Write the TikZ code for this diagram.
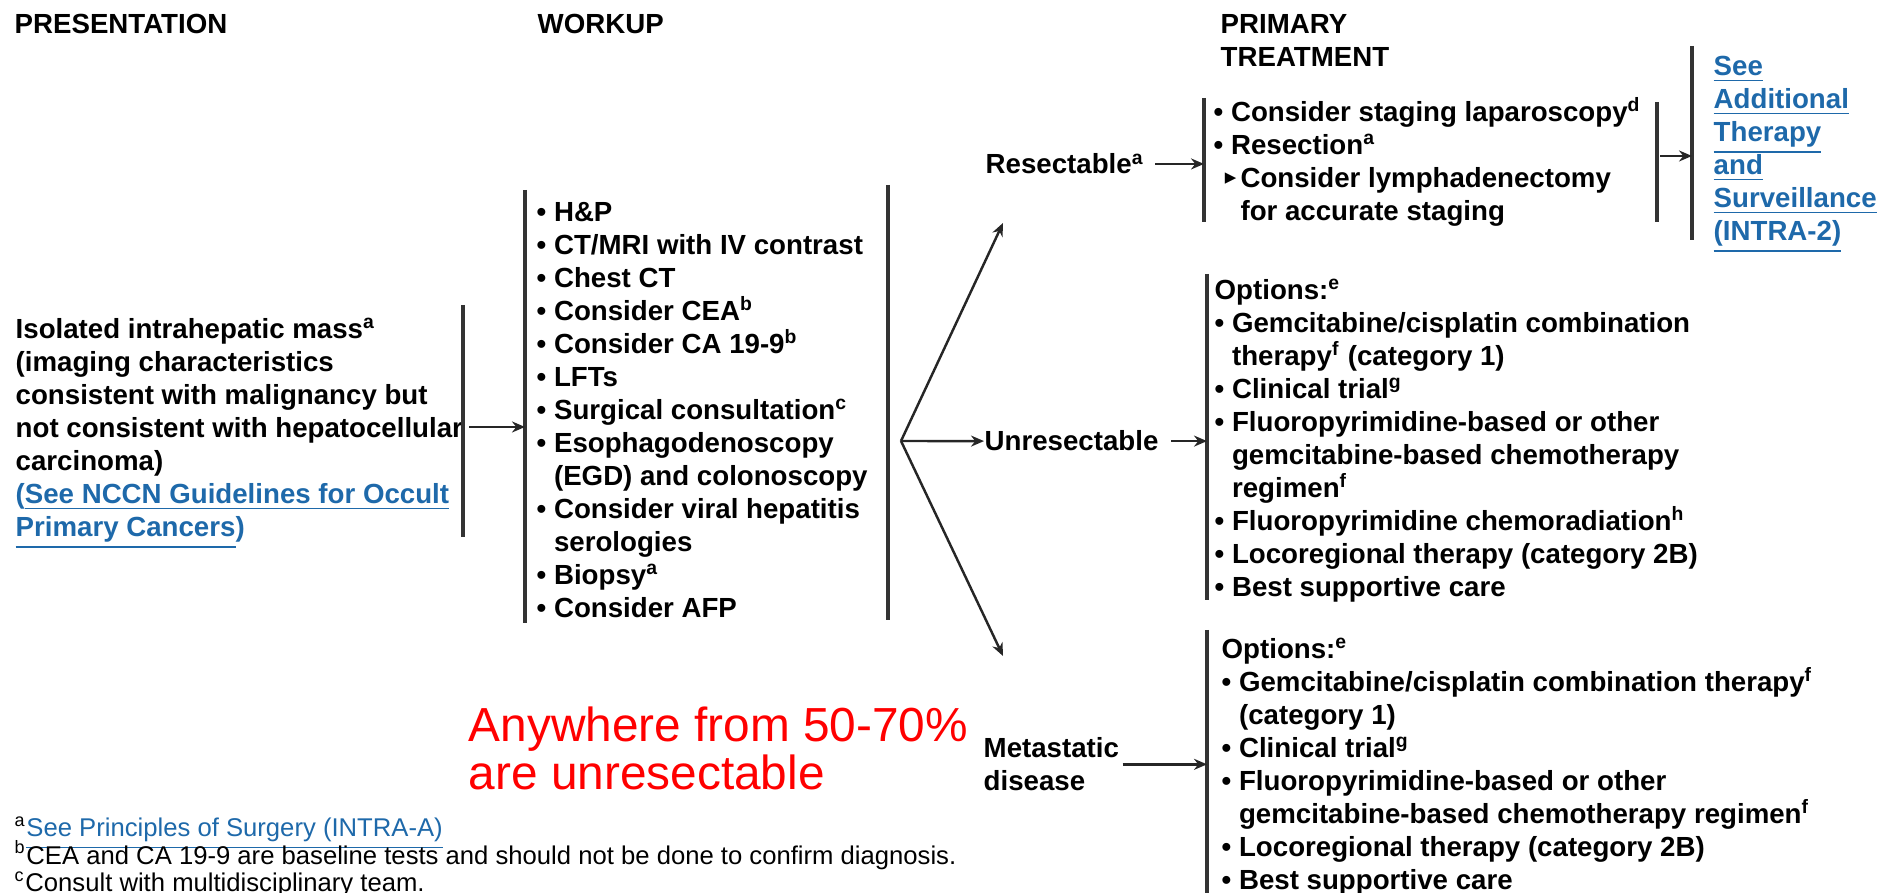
\documentclass[tikz,border=0pt]{standalone}
\usepackage{fontspec}
\setmainfont{Liberation Sans}
\newfontfamily\trifont{DejaVu Sans}
\usetikzlibrary{arrows.meta,positioning}
\definecolor{linkblue}{RGB}{30,105,170}
\newcommand{\bodyfont}{\fontsize{7.87}{9.39}\selectfont\bfseries}
\newcommand{\notefont}{\fontsize{7.3}{7.8}\selectfont\lineskiplimit=-6pt}
\newcommand{\itm}{\textbullet\ }
\newcommand{\indt}{\hphantom{\textbullet\ }}
\newcommand{\fn}[1]{\textsuperscript{#1}}

\begin{document}
\begin{tikzpicture}[>={Stealth[length=1.3mm,width=1.1mm]},
  txt/.style={inner sep=0pt,align=left,font=\bodyfont},
  lnk/.style={txt,text=linkblue},
  bar/.style={line width=0.9pt,black!80},
  arr/.style={->,line width=0.7pt,black!85}]
\useasboundingbox (0,0) rectangle (18.83,8.93);
% column heads
\node[txt,anchor=west] (hpres) at (0.14,8.69) {PRESENTATION};
\node[txt,anchor=west] (hwork) at (5.37,8.69) {WORKUP};
\node[txt,anchor=north west] (hprim) at (12.20,8.79) {PRIMARY\\TREATMENT};
% presentation
\node[txt,anchor=north west] (pres) at (0.15,5.755) {Isolated intrahepatic mass\fn{a}\\
  (imaging characteristics\\
  consistent with malignancy but\\
  not consistent with hepatocellular\\
  carcinoma)\\
  \textcolor{linkblue}{(\underline{See NCCN Guidelines for Occult}}\\
  \textcolor{linkblue}{\underline{Primary Cancers})}};
\coordinate (pbT) at (4.63,5.88);
\coordinate (pbB) at (4.63,3.56);
\draw[bar] (pbT) -- (pbB);
\coordinate (pout) at (4.69,4.66);
% workup
\coordinate (wlT) at (5.25,7.03);
\coordinate (wlB) at (5.25,2.70);
\coordinate (wrT) at (8.88,7.08);
\coordinate (wrB) at (8.88,2.73);
\draw[bar] (wlT) -- (wlB);
\draw[bar] (wrT) -- (wrB);
\draw[arr] (pout) -- (pout -| wlT);
\node[txt,anchor=north west] (work) at (5.36,6.915) {\itm H\&P\\
  \itm CT/MRI with IV contrast\\
  \itm Chest CT\\
  \itm Consider CEA\fn{b}\\
  \itm Consider CA 19-9\fn{b}\\
  \itm LFTs\\
  \itm Surgical consultation\fn{c}\\
  \itm Esophagodenoscopy\\
  \indt(EGD) and colonoscopy\\
  \itm Consider viral hepatitis\\
  \indt serologies\\
  \itm Biopsy\fn{a}\\
  \itm Consider AFP};
% split into the three groups
\node[txt,anchor=base west] (res) at (9.85,7.19) {Resectable\fn{a}};
\node[txt,anchor=base west] (unres) at (9.84,4.42) {Unresectable};
\node[txt,anchor=north west] (met) at (9.83,1.56) {Metastatic\\disease};
\coordinate (split) at (9.01,4.52);
\coordinate (upend) at (10.03,6.70);
\coordinate (dnend) at (10.03,2.37);
\draw[arr] (split) -- (upend);
\draw[arr] (split) -- (unres.west);
\draw[arr] (split) -- (dnend);
% resectable
\coordinate (rbT) at (12.04,7.95);
\coordinate (rbB) at (12.04,6.71);
\draw[bar] (rbT) -- (rbB);
\draw[arr] ([xshift=1mm]res.east) -- (res.east -| rbT);
\node[txt,anchor=north west] (resopt) at (12.13,7.96) {\itm Consider staging laparoscopy\fn{d}\\
  \itm Resection\fn{a}\\
  \makebox[0.97em][r]{\raisebox{0.12em}{\trifont\fontsize{6.5}{6.5}\selectfont ▸}\hspace{0.15em}}Consider lymphadenectomy\\
  \hspace*{0.97em}for accurate staging};
\coordinate (sbT) at (16.57,7.91);
\coordinate (sbB) at (16.57,6.71);
\draw[bar] (sbT) -- (sbB);
\coordinate (lkT) at (16.92,8.47);
\coordinate (lkB) at (16.92,6.53);
\draw[bar] (lkT) -- (lkB);
\coordinate (sout) at (16.60,7.37);
\draw[arr] (sout) -- (sout -| lkT);
\node[lnk,anchor=north west] (seeadd) at (17.13,8.375) {\underline{See}\\
  \underline{Additional}\\
  \underline{Therapy}\\
  \underline{and}\\
  \underline{Surveillance}\\
  \underline{(INTRA-2)}};
% unresectable
\coordinate (ubT) at (12.07,6.19);
\coordinate (ubB) at (12.07,2.93);
\draw[bar] (ubT) -- (ubB);
\draw[arr] ([xshift=1.2mm]unres.east) -- (unres.east -| ubT);
\node[txt,anchor=north west] (unropt) at (12.14,6.145) {Options:\fn{e}\\
  \itm Gemcitabine/cisplatin combination\\
  \indt therapy\fn{f} (category 1)\\
  \itm Clinical trial\fn{g}\\
  \itm Fluoropyrimidine-based or other\\
  \indt gemcitabine-based chemotherapy\\
  \indt regimen\fn{f}\\
  \itm Fluoropyrimidine chemoradiation\fn{h}\\
  \itm Locoregional therapy (category 2B)\\
  \itm Best supportive care};
% metastatic
\coordinate (mbT) at (12.07,2.63);
\coordinate (mbB) at (12.07,0);
\draw[bar] (mbT) -- (mbB);
\draw[arr] ([xshift=0.3mm]met.east) -- (met.east -| mbT);
\node[txt,anchor=north west] (metopt) at (12.21,2.555) {Options:\fn{e}\\
  \itm Gemcitabine/cisplatin combination therapy\fn{f}\\
  \indt(category 1)\\
  \itm Clinical trial\fn{g}\\
  \itm Fluoropyrimidine-based or other\\
  \indt gemcitabine-based chemotherapy regimen\fn{f}\\
  \itm Locoregional therapy (category 2B)\\
  \itm Best supportive care};
% red remark
\node[inner sep=0pt,align=left,text=red,font=\fontsize{13.6}{11.67}\selectfont,anchor=north west] (remark) at (4.68,1.87) {Anywhere from 50-70\%\\are unresectable};
% footnotes
\node[inner sep=0pt,align=left,font=\notefont,anchor=north west] (notes) at (0.14,0.77) {\fn{a}\textcolor{linkblue}{\underline{See Principles of Surgery (INTRA-A)}}\\
  \fn{b}CEA and CA 19-9 are baseline tests and should not be done to confirm diagnosis.\\
  \fn{c}Consult with multidisciplinary team.};
\end{tikzpicture}
\end{document}
